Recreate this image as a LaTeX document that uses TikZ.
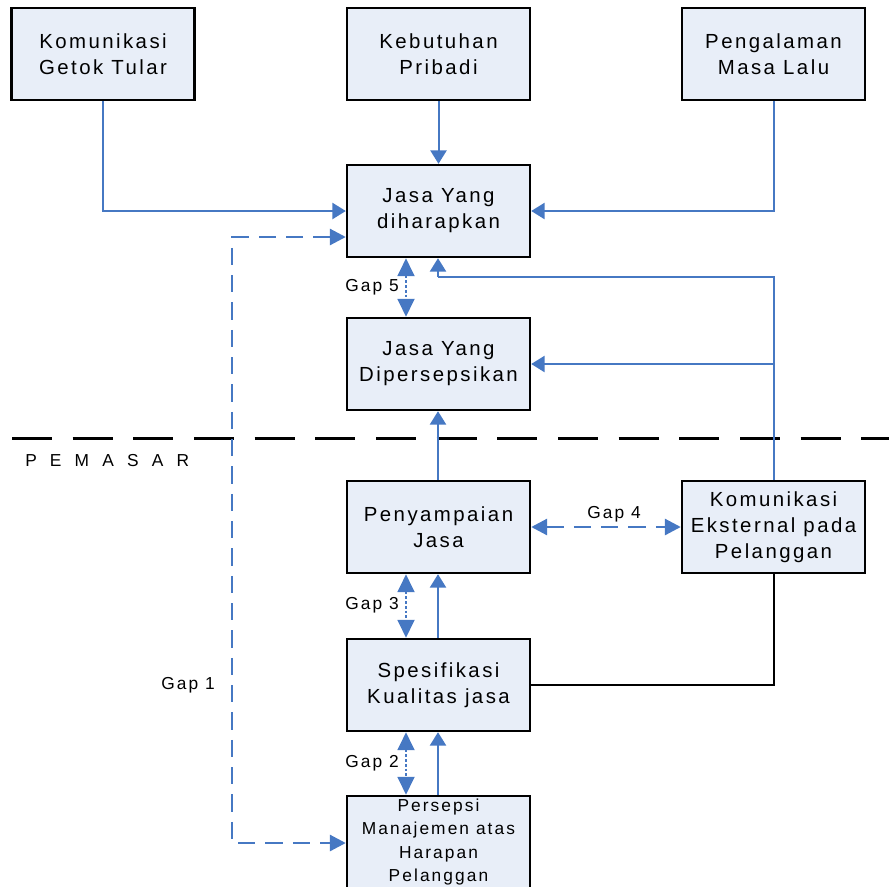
\documentclass[tikz,border=0pt]{standalone}
\usepackage{fontspec}
\setmainfont{Liberation Sans}[LetterSpace=12]
\usetikzlibrary{arrows.meta}
\definecolor{boxfill}{RGB}{232,238,248}
\definecolor{lineblue}{RGB}{70,120,195}
\newcommand{\mainfs}{\fontsize{15.3}{19.5}\selectfont}
\newcommand{\smallfs}{\fontsize{13}{17.5}\selectfont}
\tikzset{
  box/.style={draw=black, line width=1.8pt, fill=boxfill, minimum width=137.25pt, minimum height=69pt, inner sep=0pt, align=center, font=\mainfs},
  smallbox/.style={box, font=\smallfs},
  conn/.style={draw=lineblue, line width=1.5pt, -{Triangle[length=10pt,width=12pt]}},
  plainconn/.style={draw=lineblue, line width=1.5pt},
  blackconn/.style={draw=black, line width=1.5pt},
  gapdash/.style={draw=lineblue, line width=2.2pt, dash pattern=on 13pt off 7.5pt, {Triangle[length=12pt,width=12pt]}-{Triangle[length=12pt,width=12pt]}},
  gapdot/.style={draw=lineblue, line width=2.2pt, dash pattern=on 2pt off 1.6pt, {Triangle[length=13.5pt,width=12.5pt]}-{Triangle[length=13.5pt,width=12.5pt]}},
  gaplabel/.style={font=\smallfs, inner sep=0pt},
  sep/.style={draw=black, line width=2.25pt, dash pattern=on 30pt off 15.5pt}
}
\begin{document}
\begin{tikzpicture}[x=0.75pt, y=-0.75pt]
\useasboundingbox (0,0) rectangle (889,886);
% boxes
\node[box] (wom) at (103,54) {Komunikasi\\Getok Tular};
\node[box] (keb) at (438.5,54) {Kebutuhan\\Pribadi};
\node[box] (pen) at (773.5,54) {Pengalaman\\Masa Lalu};
\node[box] (exp) at (438.5,211) {Jasa Yang\\diharapkan};
\node[box] (per) at (438.5,364) {Jasa Yang\\Dipersepsikan};
\node[box] (del) at (438.5,527) {Penyampaian\\Jasa};
\node[box] (ext) at (773.5,527) {Komunikasi\\Eksternal pada\\Pelanggan};
\node[box] (spe) at (438.5,685) {Spesifikasi\\Kualitas jasa};
\node[smallbox] (man) at (438.5,842) {Persepsi\\Manajemen atas\\Harapan\\Pelanggan};
% separator
\coordinate (sepL) at (12,438);
\coordinate (sepR) at (889,438);
\draw[sep] (sepL) -- (sepR);
\node[font=\smallfs\addfontfeature{LetterSpace=76}, anchor=west, inner sep=0pt] (pemasar) at (25,461) {PEMASAR};
% coordinates
\coordinate (xa) at (438,0);
\coordinate (xg) at (406,0);
\coordinate (y277) at (0,277);
\coordinate (g1a) at (232,237);
\coordinate (g1b) at (232,843);
% solid connectors
\draw[conn] (wom.south) |- (exp.west);
\draw[conn] (keb.south) -- (exp.north);
\draw[conn] (pen.south) |- (exp.east);
\draw[plainconn] (ext.north) -- (ext.north |- y277) -- (xa |- y277);
\draw[conn] (xa |- y277) -- (exp.south -| xa);
\draw[conn] (ext.north |- per.east) -- (per.east);
\draw[conn] (del.north -| xa) -- (per.south -| xa);
\draw[conn] (spe.north -| xa) -- (del.south -| xa);
\draw[conn] (man.north -| xa) -- (spe.south -| xa);
\draw[blackconn] (ext.south) |- (spe.east);
% gaps
\draw[gapdash] (exp.west |- g1a) -- (g1a) -- (g1b) -- (man.west |- g1b);
\draw[gapdash] (del.east) -- (ext.west);
\draw[gapdot] (exp.south -| xg) -- (per.north -| xg);
\draw[gapdot] (del.south -| xg) -- (spe.north -| xg);
\draw[gapdot] (spe.south -| xg) -- (man.north -| xg);
\node[gaplabel] (gap1) at (188,685) {Gap 1};
\node[gaplabel, anchor=east] (gap5) at (399,287) {Gap 5};
\node[gaplabel, anchor=east] (gap3) at (399,605) {Gap 3};
\node[gaplabel, anchor=east] (gap2) at (399,763) {Gap 2};
\node[gaplabel] (gap4) at (614,514) {Gap 4};
\end{tikzpicture}
\end{document}
